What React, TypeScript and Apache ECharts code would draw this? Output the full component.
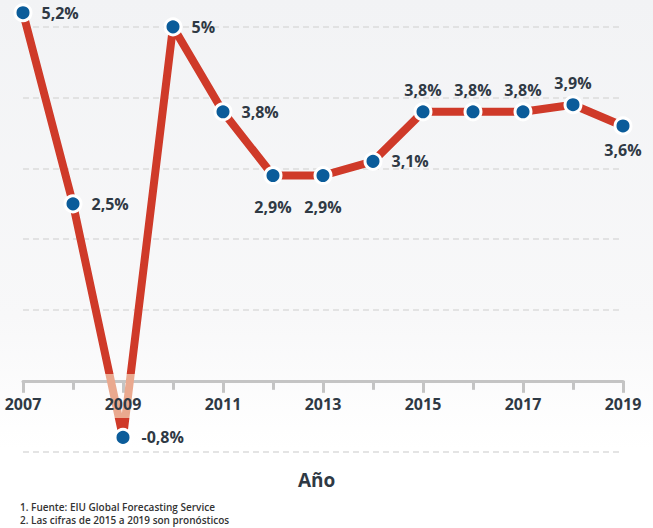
import React, { useEffect, useRef } from "react";
import * as echarts from "echarts";

// Annual GDP growth (%)
const years = [2007, 2008, 2009, 2010, 2011, 2012, 2013, 2014, 2015, 2016, 2017, 2018, 2019];
const growth = [5.2, 2.5, -0.8, 5, 3.8, 2.9, 2.9, 3.1, 3.8, 3.8, 3.8, 3.9, 3.6];
const axisTitle = "Año";
const footnotes = [
  "1. Fuente: EIU Global Forecasting Service",
  "2. Las cifras de 2015 a 2019 son pronósticos",
];

const FONT = "'Open Sans', 'Noto Sans', sans-serif";
const TEXT = "#2f3944";
const RED = "#cf3a29";
const SALMON = "#eaa98f";
const BLUE = "#0b5c9a";
const AXIS = "#c4c4c4";

const Y_MIN = -1;
const Y_MAX = 5.2;
const GRID_TOP = 12.7;
const GRID_BOTTOM = 76.4;
const CHART_H = 528;

const fmt = (v: number) => String(v).replace(".", ",") + "%";

// label placement per year
const labelBelow: Record<number, number> = { 2012: 14, 2013: 14, 2019: 7 };
const labelAbove = new Set([2015, 2016, 2017, 2018]);

export default function App() {
  const ref = useRef<HTMLDivElement>(null);

  useEffect(() => {
    if (!ref.current) return;
    const chart = echarts.init(ref.current, null, { renderer: "svg" });

    // the x axis sits on the zero line: shift it up by the height of the negative range
    const plotH = CHART_H - GRID_TOP - GRID_BOTTOM;
    const zeroOffset = (plotH * (0 - Y_MIN)) / (Y_MAX - Y_MIN);

    const points = years.map((y, i) => {
      let label: any = { position: "right", distance: 9 };
      if (labelBelow[y] !== undefined) label = { position: "bottom", distance: labelBelow[y] };
      else if (labelAbove.has(y)) label = { position: "top", distance: 4 };
      return { value: [y, growth[i]], label };
    });

    const baseX = {
      type: "value",
      min: years[0],
      max: years[years.length - 1],
      interval: 2,
      offset: -zeroOffset,
      splitLine: { show: false },
      minorSplitLine: { show: false },
    };

    chart.setOption({
      animation: false,
      backgroundColor: "transparent",
      textStyle: { fontFamily: FONT },
      grid: { left: 23, right: 30, top: GRID_TOP, bottom: GRID_BOTTOM, containLabel: false },
      xAxis: [
        {
          // axis line and ticks, beneath the series
          ...baseX,
          z: 0,
          axisLine: { onZero: false, lineStyle: { color: AXIS, width: 3 } },
          axisTick: { show: true, length: 12, lineStyle: { color: AXIS, width: 3 } },
          minorTick: { show: true, splitNumber: 2, length: 9, lineStyle: { color: AXIS, width: 3 } },
          axisLabel: { show: false },
        },
        {
          // year labels, drawn over the series
          ...baseX,
          z: 10,
          position: "bottom",
          axisLine: { show: false, onZero: false },
          axisTick: { show: false },
          minorTick: { show: false },
          axisLabel: {
            formatter: (v: number) => String(v),
            fontSize: 16,
            fontWeight: "bold",
            color: TEXT,
            fontFamily: FONT,
            margin: 15,
          },
        },
      ],
      yAxis: {
        type: "value",
        min: Y_MIN,
        max: Y_MAX,
        interval: 1,
        axisLine: { show: false },
        axisTick: { show: false },
        axisLabel: { show: false },
        splitLine: {
          show: true,
          showMaxLine: false,
          lineStyle: { color: "#dcdcdc", width: 1.5, type: [6, 4] },
        },
      },
      visualMap: {
        type: "piecewise",
        show: false,
        dimension: 1,
        seriesIndex: 0,
        pieces: [
          { gte: 0.1, color: RED },
          { gte: -0.52, lt: 0.1, color: SALMON },
          { lt: -0.52, color: RED },
        ],
      },
      series: [
        {
          type: "line",
          xAxisIndex: 0,
          data: years.map((y, i) => [y, growth[i]]),
          showSymbol: false,
          lineStyle: { width: 8, cap: "butt", join: "bevel" },
          z: 2,
        },
        {
          type: "scatter",
          xAxisIndex: 0,
          data: points,
          symbol: "circle",
          symbolSize: 16,
          itemStyle: { color: BLUE, borderColor: "#ffffff", borderWidth: 3, opacity: 1 },
          label: {
            show: true,
            formatter: (p: any) => fmt(p.value[1]),
            fontSize: 16,
            fontWeight: "bold",
            color: TEXT,
            fontFamily: FONT,
          },
          z: 3,
        },
      ],
      graphic: [
        {
          type: "text",
          left: 298,
          top: 470,
          style: { text: axisTitle, fontSize: 19, fontWeight: "bold", fill: TEXT, fontFamily: FONT },
        },
        {
          type: "text",
          left: 20,
          top: 502,
          style: { text: footnotes[0], fontSize: 10, fontWeight: 600, fill: "#333", fontFamily: FONT },
        },
        {
          type: "text",
          left: 20,
          top: 515,
          style: { text: footnotes[1], fontSize: 10, fontWeight: 600, fill: "#333", fontFamily: FONT },
        },
      ],
    });

    return () => chart.dispose();
  }, []);

  return (
    <div
      ref={ref}
      style={{
        position: "absolute",
        left: 0,
        top: 0,
        width: 653,
        height: 528,
        background: "linear-gradient(#f2f3f5 0%, #f8f8f9 60%, #ffffff 85%)",
      }}
    />
  );
}
